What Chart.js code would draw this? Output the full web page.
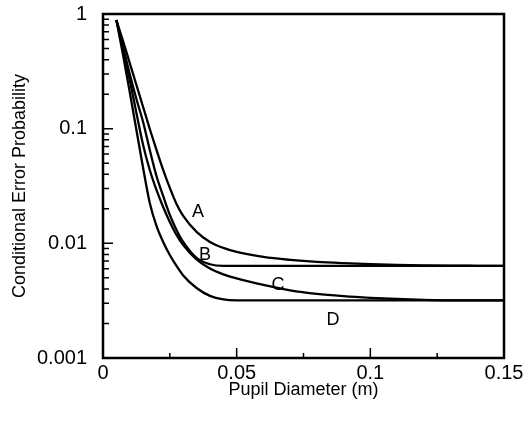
<!DOCTYPE html>
<html>
<head>
<meta charset="utf-8">
<script src="https://cdn.jsdelivr.net/npm/chart.js@4.4.1/dist/chart.umd.min.js"></script>
<style>
  html, body { margin: 0; padding: 0; background: #fff; }
  #wrap { width: 527px; height: 422px; }
</style>
</head>
<body>
<div id="wrap"><canvas id="chart"></canvas></div>
<script>
const diameter = [0.005, 0.0075, 0.01, 0.0125, 0.015, 0.0175, 0.02, 0.0225, 0.025, 0.0275, 0.03, 0.035, 0.04,
  0.045, 0.05, 0.06, 0.07, 0.08, 0.09, 0.1, 0.11, 0.12, 0.13, 0.14, 0.15];

const curveA = [0.886, 0.5815, 0.3739, 0.2404, 0.1546, 0.0994, 0.0652, 0.04364, 0.03041, 0.02205, 0.01734, 0.01257, 0.01028,
  0.00912, 0.00841, 0.00761, 0.00717, 0.00688, 0.00671, 0.00659, 0.0065, 0.00643, 0.00639, 0.00637, 0.00635];
const curveB = [0.886, 0.5157, 0.2998, 0.1815, 0.1144, 0.0652, 0.03869, 0.0259, 0.01769, 0.01309, 0.01028, 0.00746, 0.00657,
  0.00635, 0.00635, 0.00635, 0.00635, 0.00635, 0.00635, 0.00635, 0.00635, 0.00635, 0.00635, 0.00635, 0.00635];
const curveC = [0.886, 0.4855, 0.2658, 0.137, 0.0721, 0.04364, 0.02921, 0.02076, 0.01537, 0.01184, 0.00968, 0.00724, 0.00604,
  0.00536, 0.00494, 0.00434, 0.00389, 0.00362, 0.00346, 0.00335, 0.00327, 0.00321, 0.00318, 0.00318, 0.00318];
const curveD = [0.886, 0.4392, 0.2089, 0.0974, 0.04545, 0.0225, 0.01418, 0.01028, 0.00792, 0.00635, 0.00525, 0.00408, 0.00348,
  0.00324, 0.00318, 0.00318, 0.00318, 0.00318, 0.00318, 0.00318, 0.00318, 0.00318, 0.00318, 0.00318, 0.00318];

const curveNames = ["A", "B", "C", "D"];
const nameX = [0.0355, 0.0382, 0.0655, 0.086];
const nameY = [0.0188, 0.0079, 0.0043, 0.00215];

const xMajorTicks = [0, 0.05, 0.1, 0.15];
const xMinorTicks = [0.025, 0.075, 0.125];
const yMajorTicks = [0.001, 0.01, 0.1, 1];

const yMinorTicks = [];
yMajorTicks.slice(0, -1).forEach((d) => {
  for (let k = 2; k <= 9; k++) yMinorTicks.push(d * k);
});

const font = "'Liberation Sans', Arial, Helvetica, sans-serif";

const isMajor = (list, v) => list.some((m) => Math.abs(m - v) < 1e-9 * Math.max(1, m));

// ticks pointing into the plot, the frame and the curve letters
const framePlugin = {
  id: "frame",
  afterDatasetsDraw(chart) {
    const { ctx, chartArea: a, scales: { x, y } } = chart;
    ctx.save();
    ctx.strokeStyle = "#000";
    ctx.lineWidth = 1.5;
    ctx.beginPath();
    x.ticks.forEach((t) => {
      const px = x.getPixelForValue(t.value);
      const len = isMajor(xMajorTicks, t.value) ? 10 : 5;
      ctx.moveTo(px, a.bottom);
      ctx.lineTo(px, a.bottom - len);
    });
    y.ticks.forEach((t) => {
      const py = y.getPixelForValue(t.value);
      const len = isMajor(yMajorTicks, t.value) ? 10 : 6;
      ctx.moveTo(a.left, py);
      ctx.lineTo(a.left + len, py);
    });
    ctx.stroke();

    ctx.lineWidth = 2.5;
    ctx.strokeRect(a.left, a.top, a.right - a.left, a.bottom - a.top);

    ctx.fillStyle = "#000";
    ctx.font = "18px " + font;
    ctx.textAlign = "center";
    ctx.textBaseline = "middle";
    curveNames.forEach((n, i) => {
      ctx.fillText(n, x.getPixelForValue(nameX[i]), y.getPixelForValue(nameY[i]));
    });
    ctx.restore();
  },
};

const makeSet = (values) => ({
  data: diameter.map((d, i) => ({ x: d, y: values[i] })),
  borderColor: "#000",
  borderWidth: 2.3,
  pointRadius: 0,
  fill: false,
  cubicInterpolationMode: "monotone",
});

new Chart(document.getElementById("chart"), {
  type: "line",
  data: {
    datasets: [makeSet(curveA), makeSet(curveB), makeSet(curveC), makeSet(curveD)],
  },
  options: {
    responsive: true,
    maintainAspectRatio: false,
    animation: false,
    layout: { padding: { left: 0, top: 14, right: 23, bottom: 0 } },
    plugins: { legend: { display: false }, tooltip: { enabled: false } },
    scales: {
      x: {
        type: "linear",
        min: 0,
        max: 0.15,
        afterBuildTicks: (s) => {
          s.ticks = xMajorTicks.concat(xMinorTicks).sort((p, q) => p - q).map((v) => ({ value: v }));
        },
        afterFit: (s) => { s.height = 64; },
        grid: { display: false, drawTicks: false },
        border: { display: false },
        ticks: {
          autoSkip: false,
          maxRotation: 0,
          padding: 3,
          color: "#000",
          font: { family: font, size: 20 },
          callback: (v) => (isMajor(xMajorTicks, v) ? String(v) : ""),
        },
        title: {
          display: true,
          text: "Pupil Diameter (m)",
          color: "#000",
          font: { family: font, size: 18 },
          padding: { top: 0, bottom: 21 },
        },
      },
      y: {
        type: "logarithmic",
        min: 0.001,
        max: 1,
        afterBuildTicks: (s) => {
          s.ticks = yMajorTicks.concat(yMinorTicks).sort((p, q) => p - q).map((v) => ({ value: v }));
        },
        afterFit: (s) => {
          s.width = 103;
          s.paddingTop = 0;
          s.paddingBottom = 0;
        },
        grid: { display: false, drawTicks: false },
        border: { display: false },
        ticks: {
          autoSkip: false,
          padding: 16,
          color: "#000",
          font: { family: font, size: 20 },
          callback: (v) => (isMajor(yMajorTicks, v) ? String(v) : ""),
        },
        title: {
          display: true,
          text: "Conditional Error Probability",
          color: "#000",
          font: { family: font, size: 18 },
          padding: { top: 9, bottom: 0 },
        },
      },
    },
  },
  plugins: [framePlugin],
});
</script>
</body>
</html>
